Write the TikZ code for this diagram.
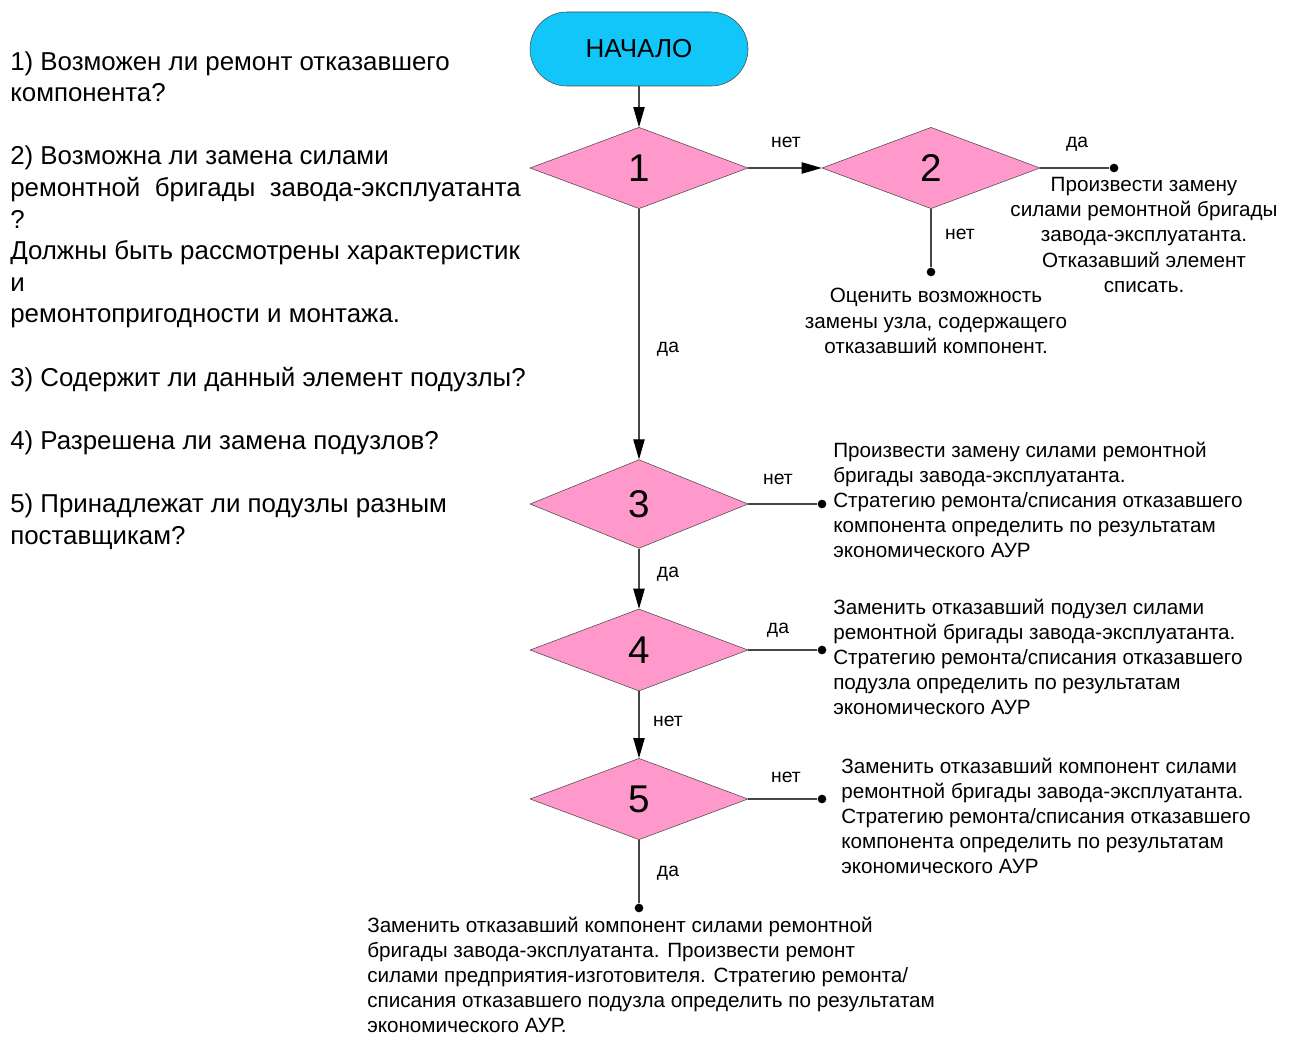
\documentclass[tikz,border=0pt]{standalone}
\usepackage{fontspec}
\setmainfont{Liberation Sans}
\usetikzlibrary{shapes.geometric,arrows.meta,positioning}
\definecolor{startblue}{RGB}{18,198,250}
\definecolor{decpink}{RGB}{255,153,204}
\definecolor{linegrey}{RGB}{70,70,70}

\begin{document}
\begin{tikzpicture}[x=0.75pt, y=-0.75pt,
  decision/.style={diamond, draw=linegrey, fill=decpink, minimum width=163.5pt, inner sep=0pt, font=\fontsize{29}{32}\selectfont},
  flow/.style={draw=linegrey, line width=0.8pt},
  arr/.style={flow, -{Triangle[length=15pt,width=8.5pt,color=black]}},
  enddot/.style={circle, fill=black, inner sep=0pt, minimum size=6.5pt},
  answer/.style={anchor=base, inner sep=0pt, font=\fontsize{14.5}{16}\selectfont},
  note/.style={inner sep=0pt, font=\fontsize{15.5}{18.75}\selectfont},
  question/.style={inner sep=0pt, align=left, anchor=base west, font=\fontsize{19.4}{23.7}\selectfont}]
\useasboundingbox (0,0) rectangle (1294,1037);

% Start
\node[draw=linegrey, fill=startblue, rounded corners=27.75pt, minimum width=163.5pt,
  minimum height=55.5pt, font=\fontsize{19.5}{22}\selectfont] (start) at (639,49) {НАЧАЛО};

% Decisions 1..5
\foreach \n/\x/\y/\h in {1/639/168/61, 2/931/168/61, 3/639/504/66.5, 4/639/650/61.5, 5/639/799/61} {
  \node[decision, minimum height=\h pt] (q\n) at (\x,\y) {\n};
}

% End points
\node[enddot] (d2r) at (1114,168) {};
\node[enddot] (d2b) at (931,272) {};
\node[enddot] (d3) at (822,504) {};
\node[enddot] (d4) at (822,650) {};
\node[enddot] (d5r) at (822,799) {};
\node[enddot] (d5b) at (639,908) {};

% Edges
\foreach \v/\w in {start/q1, q1/q2, q1/q3, q3/q4, q4/q5} {
  \draw[arr] (\v) -- (\w);
}
\foreach \v/\w in {q2/d2r, q2/d2b, q3/d3, q4/d4, q5/d5r, q5/d5b} {
  \draw[flow] (\v) -- (\w);
}

% Answers
\foreach \x/\y/\label in {786/148/нет, 1077/148/да, 960/240/нет, 668/352/да, 778/484/нет,
  668/577/да, 778/633/да, 668/726/нет, 786/782/нет, 668/876/да} {
  \node[answer] (a\x\y) at (\x,\y) {\label};
}

% Outcomes (anchored at the last line)
\node[note, align=center, anchor=base] (o2r) at (1144,292) {Произвести замену\\силами ремонтной бригады\\завода-эксплуатанта.\\Отказавший элемент\\списать.};
\node[note, align=center, anchor=base] (o2b) at (936,353) {Оценить возможность\\замены узла, содержащего\\отказавший компонент.};
\node[note, align=left, anchor=base west] (o3) at (833,557) {Произвести замену силами ремонтной\\бригады завода-эксплуатанта.\\Стратегию ремонта/списания отказавшего\\компонента определить по результатам\\экономического АУР};
\node[note, align=left, anchor=base west] (o4) at (833,714) {Заменить отказавший подузел силами\\ремонтной бригады завода-эксплуатанта.\\Стратегию ремонта/списания отказавшего\\подузла определить по результатам\\экономического АУР};
\node[note, align=left, anchor=base west] (o5) at (841,873) {Заменить отказавший компонент силами\\ремонтной бригады завода-эксплуатанта.\\Стратегию ремонта/списания отказавшего\\компонента определить по результатам\\экономического АУР};
\node[note, align=left, anchor=base west] (o6) at (367,1032) {Заменить отказавший компонент силами ремонтной\\бригады завода-эксплуатанта. Произвести ремонт\\силами предприятия-изготовителя. Стратегию ремонта/\\списания отказавшего подузла определить по результатам\\экономического АУР.};

% Questions
\node[question] (qs) at (10,544) {1) Возможен ли ремонт отказавшего\\компонента?\\[23.7pt]
2) Возможна ли замена силами\\ремонтной\ \ бригады\ \ завода-эксплуатанта\\?\\Должны быть рассмотрены характеристик\\и\\ремонтопригодности и монтажа.\\[23.7pt]
3) Содержит ли данный элемент подузлы?\\[23.7pt]
4) Разрешена ли замена подузлов?\\[23.7pt]
5) Принадлежат ли подузлы разным\\поставщикам?};
\end{tikzpicture}
\end{document}
